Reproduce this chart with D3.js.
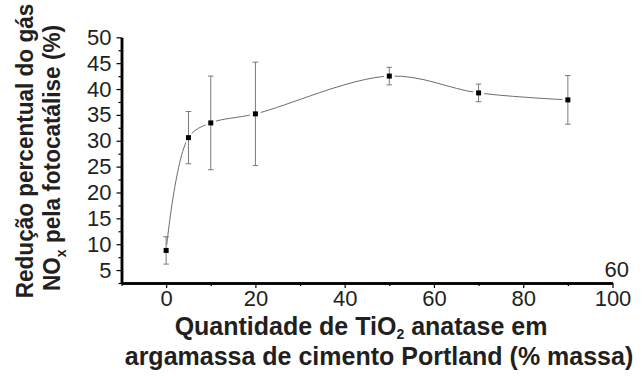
<!DOCTYPE html>
<html>
<head>
<meta charset="utf-8">
<script src="https://cdn.jsdelivr.net/npm/d3@7"></script>
<style>
  html, body { margin: 0; padding: 0; background: #fff; }
  svg { display: block; }
  text { font-family: "Liberation Sans", Arial, sans-serif; fill: #231f20; }
</style>
</head>
<body>
<svg id="chart" width="643" height="376"></svg>
<script>
// ---- data ----
const tio2Content = [0, 5, 10, 20, 50, 70, 90];
const noxReduction = [8.8, 30.6, 33.45, 35.2, 42.5, 39.25, 37.9];
const noxError = [2.65, 5.05, 9.05, 10.0, 1.7, 1.7, 4.7];
const xMajorTicks = [0, 20, 40, 60, 80, 100];
const xMinorTicks = [-10, 10, 30, 50, 70, 90];
const yMajorTicks = [5, 10, 15, 20, 25, 30, 35, 40, 45, 50];
const yMinorTicks = [2.5, 7.5, 12.5, 17.5, 22.5, 27.5, 32.5, 37.5, 42.5, 47.5];
const strayLabel = "60";

const svg = d3.select("#chart");
const x = d3.scaleLinear().domain([-10, 100]).range([121.5, 612.5]);
const y = d3.scaleLinear().domain([2.5, 50]).range([283, 37.3]);

const pts = tio2Content.map((v, i) => ({ x: v, y: noxReduction[i], e: noxError[i] }));

// curve
const line = d3.line().x(d => x(d.x)).y(d => y(d.y)).curve(d3.curveCatmullRom.alpha(0.5));
svg.append("path").datum(pts).attr("d", line)
  .attr("fill", "none").attr("stroke", "#6d6d6d").attr("stroke-width", 1);

// gaps around symbols
svg.append("g").selectAll("circle").data(pts).join("circle")
  .attr("cx", d => x(d.x)).attr("cy", d => y(d.y)).attr("r", 5.5).attr("fill", "#fff");

// error bars
const eb = svg.append("g").attr("stroke", "#7a7a7a").attr("stroke-width", 1);
pts.forEach(d => {
  const cx = x(d.x);
  eb.append("line").attr("x1", cx).attr("x2", cx).attr("y1", y(d.y + d.e)).attr("y2", y(d.y - d.e));
  eb.append("line").attr("x1", cx - 2.8).attr("x2", cx + 2.8).attr("y1", y(d.y + d.e)).attr("y2", y(d.y + d.e));
  eb.append("line").attr("x1", cx - 2.8).attr("x2", cx + 2.8).attr("y1", y(d.y - d.e)).attr("y2", y(d.y - d.e));
});

// markers
svg.append("g").selectAll("rect").data(pts).join("rect")
  .attr("x", d => x(d.x) - 2.5).attr("y", d => y(d.y) - 2.5)
  .attr("width", 5).attr("height", 5).attr("fill", "#000");

// axes
const x0 = x(-10), yBase = y(2.5);
const tickFont = 22;

const gx = svg.append("g").attr("transform", `translate(0,${yBase})`);
gx.call(d3.axisBottom(x).tickValues(xMajorTicks).tickSize(5).tickSizeOuter(0).tickPadding(2));
gx.append("g").call(d3.axisBottom(x).tickValues(xMinorTicks).tickSize(3).tickSizeOuter(0).tickFormat(""));
gx.selectAll(".domain").attr("stroke", "#000").attr("stroke-width", 2.5);
gx.selectAll(".tick line").attr("stroke", "#000").attr("stroke-width", 1.2);
gx.selectAll("text").attr("font-size", tickFont).attr("font-family", "Liberation Sans, Arial, sans-serif").attr("fill", "#231f20");

const gy = svg.append("g").attr("transform", `translate(${x0},0)`);
gy.call(d3.axisLeft(y).tickValues(yMajorTicks).tickSize(5).tickSizeOuter(0).tickPadding(5));
gy.append("g").call(d3.axisLeft(y).tickValues(yMinorTicks).tickSize(3).tickSizeOuter(0).tickFormat(""));
gy.selectAll(".domain").attr("stroke", "#000").attr("stroke-width", 2.5);
gy.selectAll(".tick line").attr("stroke", "#000").attr("stroke-width", 1.2);
gy.selectAll("text").attr("font-size", tickFont).attr("font-family", "Liberation Sans, Arial, sans-serif").attr("fill", "#231f20");

// stray label
svg.append("text").attr("x", 629).attr("y", 277).attr("text-anchor", "end")
  .attr("font-size", tickFont).text(strayLabel);

// x title
const xt1 = svg.append("text").attr("x", 361).attr("y", 335).attr("text-anchor", "middle")
  .attr("font-size", 25).attr("font-weight", "bold");
xt1.append("tspan").text("Quantidade de TiO");
xt1.append("tspan").attr("font-size", 14).attr("dy", 4).text("2");
xt1.append("tspan").attr("dy", -4).text(" anatase em");
svg.append("text").attr("x", 379).attr("y", 365).attr("text-anchor", "middle")
  .attr("font-size", 25).attr("font-weight", "bold")
  .text("argamassa de cimento Portland (% massa)");

// y title
svg.append("text").attr("transform", "translate(33,151) rotate(-90) scale(0.94,1)").attr("text-anchor", "middle")
  .attr("font-size", 24).attr("font-weight", "bold").text("Redução percentual do gás");
const yt2 = svg.append("text").attr("transform", "translate(60,158) rotate(-90) scale(0.94,1)").attr("text-anchor", "middle")
  .attr("font-size", 24).attr("font-weight", "bold");
yt2.append("tspan").text("NO");
yt2.append("tspan").attr("font-size", 15).attr("dy", 6).text("x");
yt2.append("tspan").attr("dy", -6).text(" pela fotocatálise (%)");
</script>
</body>
</html>
